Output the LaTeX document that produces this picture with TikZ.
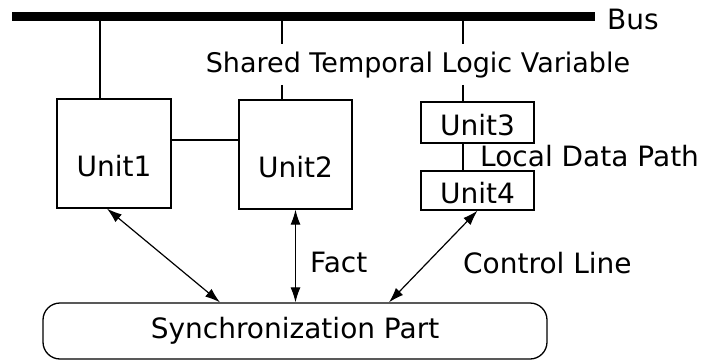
\documentclass[tikz,border=0pt]{standalone}
\usepackage{fontspec}
\setmainfont{DejaVu Sans}
\usetikzlibrary{arrows.meta}
\tikzset{
  unit/.style={draw, line width=1.3pt, inner sep=0pt, minimum width=113pt, font=\fontsize{28}{32}\selectfont},
  lbl/.style={inner sep=0pt, font=\fontsize{28}{32}\selectfont},
  both/.style={line width=1.2pt, {Latex[length=15pt,width=10pt]}-{Latex[length=15pt,width=10pt]}},
  tap/.style={line width=2.6pt}
}
\begin{document}
\begin{tikzpicture}[x=1pt,y=-1pt]
\useasboundingbox (0,0) rectangle (720,361);
% bus and its taps
\coordinate (B0) at (12,17);
\coordinate (B1) at (100,17);
\coordinate (B2) at (282,17);
\coordinate (B3) at (463,17);
\coordinate (B4) at (595,17);
\node[lbl, anchor=base west] (bus) at (607,30) {Bus};
\node[lbl, inner ysep=7pt, font=\fontsize{27}{32}\selectfont, anchor=base] (stlv) at (418,72) {Shared Temporal Logic Variable};
% units
\node[unit, minimum width=114pt, minimum height=109pt, text height=46pt, text depth=0pt] (u1) at (114,153.5) {Unit1};
\node[unit, minimum height=109pt, text height=46pt, text depth=0pt] (u2) at (295.5,154.5) {Unit2};
\node[unit, minimum height=41pt, text height=26pt, text depth=0pt] (u3) at (477.5,122.5) {Unit3};
\node[unit, minimum height=39pt, text height=26pt, text depth=0pt] (u4) at (477.5,190.5) {Unit4};
\node[unit, minimum width=504pt, minimum height=56pt, rounded corners=17pt] (sync) at (295,331) {Synchronization Part};
\draw[tap] (B1) -- (B1 |- u1.north);
\draw[tap] (B2) -- (B2 |- stlv.north);
\draw[tap] (B2 |- stlv.south) -- (B2 |- u2.north);
\draw[tap] (B3) -- (B3 |- stlv.north);
\draw[tap] (B3 |- stlv.south) -- (B3 |- u3.north);
\draw[line width=9pt] (B0) -- (B4);
\draw[tap] ([yshift=13.5pt]u1.east) -- ([yshift=13.5pt]u1.east -| u2.west);
\draw[tap] (B3 |- u3.south) -- (B3 |- u4.north);
\node[lbl, anchor=base west] (ldp) at (480,166) {Local Data Path};
% control lines
\draw[both] ([xshift=-7pt]u1.south) -- ([xshift=-75pt]sync.north);
\draw[both] (u2.south) -- (u2.south |- sync.north);
\draw[both] (u4.south) -- ([xshift=94pt]sync.north);
\node[lbl, anchor=base west] (fact) at (310,272) {Fact};
\node[lbl, anchor=base west] (ctrl) at (463,273) {Control Line};
\end{tikzpicture}
\end{document}
